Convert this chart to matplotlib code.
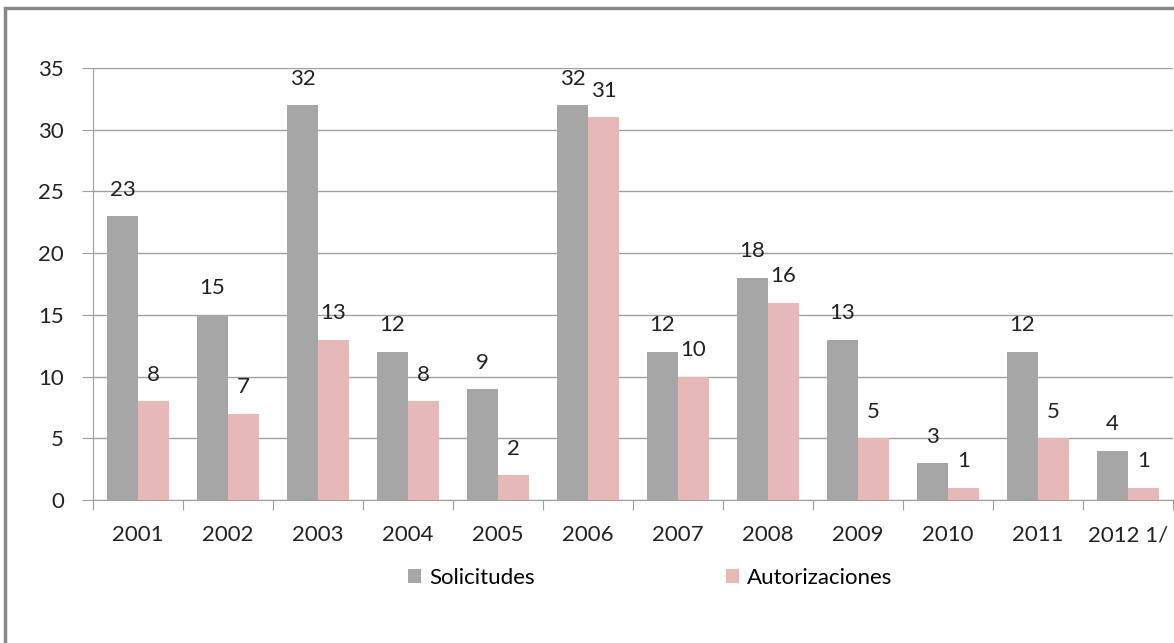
import matplotlib.pyplot as plt
import numpy as np
from matplotlib.patches import Rectangle

years = ['2001', '2002', '2003', '2004', '2005', '2006', '2007', '2008',
         '2009', '2010', '2011', '2012 1/']
solicitudes = [23, 15, 32, 12, 9, 32, 12, 18, 13, 3, 12, 4]
autorizaciones = [8, 7, 13, 8, 2, 31, 10, 16, 5, 1, 5, 1]

plt.rcParams['font.family'] = ['Lato', 'DejaVu Sans']
fs = 16

fig = plt.figure(figsize=(11.74, 6.43), dpi=100)

# outer chart frame (runs past the right and bottom edges)
fig.patches.append(Rectangle((5 / 1174, -0.1), 1.2, 1 - 8 / 643 + 0.1,
                             transform=fig.transFigure, fill=False,
                             edgecolor='#888888', linewidth=2.5, zorder=0))

ax = fig.add_axes([93 / 1174, 1 - 500 / 643, 1080 / 1174, 432 / 643])

x = np.arange(len(years)) + 0.5
w = 0.344
b1 = ax.bar(x - w / 2, solicitudes, w, color='#a6a6a6', label='Solicitudes', zorder=3)
b2 = ax.bar(x + w / 2, autorizaciones, w, color='#e6b9b8', label='Autorizaciones', zorder=3)

for bars, vals in ((b1, solicitudes), (b2, autorizaciones)):
    for r, v in zip(bars, vals):
        ax.annotate(str(v), (r.get_x() + r.get_width() / 2, v),
                    xytext=(0, 19), textcoords='offset points',
                    ha='center', va='center', fontsize=fs, color='#222222')

ax.set_xlim(0, len(years))
ax.set_ylim(0, 35)
ax.set_yticks(range(0, 36, 5))
ax.yaxis.grid(True, color='#a0a0a0', linewidth=1, zorder=0)

ax.set_xticks(range(len(years) + 1))
ax.set_xticklabels([])
ax.set_xticks(x, minor=True)
ax.set_xticklabels(years, minor=True)
ax.tick_params(axis='x', which='major', length=7, color='#a0a0a0')
ax.tick_params(axis='x', which='minor', length=0, pad=18, labelsize=fs,
               labelcolor='#222222')
ax.tick_params(axis='y', length=8, color='#a0a0a0', pad=13, labelsize=fs,
               labelcolor='#222222')

for s in ('top', 'right'):
    ax.spines[s].set_visible(False)
for s in ('left', 'bottom'):
    ax.spines[s].set_color('#a0a0a0')

fig.legend(handles=[b1, b2], loc='center', bbox_to_anchor=(650 / 1174, 1 - 578 / 643),
           ncol=2, frameon=False, fontsize=fs, handlelength=0.6, handleheight=0.6,
           handletextpad=0.35, columnspacing=8.6)

fig.savefig('out.png', dpi=100)
